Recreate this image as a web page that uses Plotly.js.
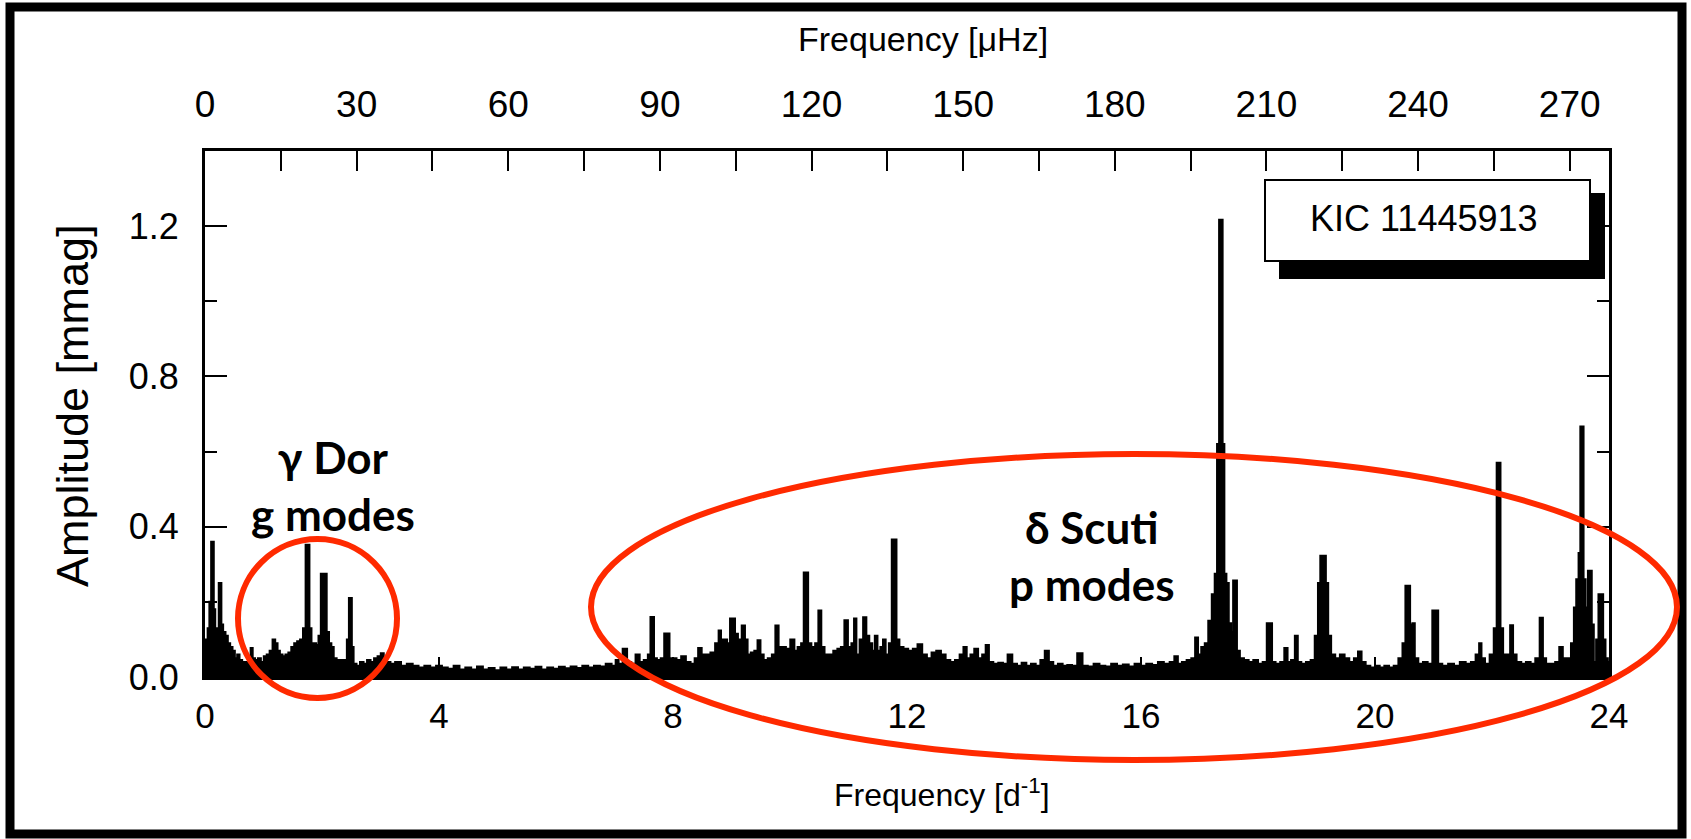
<!DOCTYPE html>
<html>
<head>
<meta charset="utf-8">
<script src="https://cdn.plot.ly/plotly-3.0.1.min.js"></script>
<style>
html,body{margin:0;padding:0;background:#fff;}
#chart{width:1691px;height:839px;}
</style>
</head>
<body>
<div id="chart"></div>
<script>
// ---- Data (frequency in d^-1, amplitude in mmag) ----
const lowFreq = [0.00,0.03,0.06,0.09,0.12,0.14,0.16,0.19,0.22,0.25,0.27,0.29,0.33,0.37,0.41,0.45,0.49,0.53,0.57,0.61,0.66,0.71,0.76,0.80,0.83,0.88,0.93,0.98,1.03,1.08,1.13,1.18,1.22,1.26,1.30,1.35,1.40,1.45,1.50,1.55,1.60,1.65,1.70,1.74,1.77,1.80,1.84,1.88,1.92,1.96,2.00,2.06,2.10,2.14,2.18,2.22,2.28,2.34,2.40,2.45,2.47,2.50,2.52,2.56,2.62,2.68,2.74,2.80,2.86,2.92,2.98,3.03,3.08,3.14,3.20];
const lowAmp  = [0.06,0.10,0.13,0.20,0.36,0.36,0.18,0.13,0.13,0.25,0.25,0.14,0.12,0.11,0.09,0.08,0.07,0.05,0.06,0.045,0.04,0.04,0.05,0.077,0.05,0.045,0.05,0.04,0.055,0.06,0.07,0.10,0.09,0.07,0.06,0.055,0.06,0.065,0.08,0.09,0.095,0.10,0.13,0.352,0.352,0.13,0.09,0.09,0.085,0.11,0.275,0.275,0.12,0.09,0.08,0.05,0.045,0.045,0.045,0.10,0.21,0.21,0.08,0.035,0.03,0.04,0.035,0.045,0.04,0.05,0.055,0.063,0.045,0.04,0.035];

const gapFreq = [3.30,3.40,3.50,3.60,3.70,3.80,3.90,4.00,4.10,4.20,4.30,4.40,4.50,4.60,4.70,4.80,4.90,5.00,5.10,5.20,5.30,5.40,5.50,5.60,5.70,5.80,5.90,6.00,6.10,6.20,6.30,6.40,6.50,6.60,6.70,6.80,6.90,7.00];
const gapAmp  = [0.04,0.03,0.035,0.03,0.025,0.03,0.025,0.03,0.025,0.022,0.03,0.02,0.025,0.02,0.028,0.02,0.024,0.018,0.025,0.02,0.026,0.02,0.025,0.022,0.027,0.02,0.025,0.022,0.027,0.023,0.028,0.024,0.03,0.025,0.03,0.028,0.035,0.03];

const pFreq = [7.04,7.10,7.18,7.25,7.32,7.40,7.46,7.54,7.60,7.63,7.66,7.69,7.76,7.82,7.88,7.92,7.96,8.02,8.10,8.18,8.26,8.34,8.40,8.46,8.52,8.60,8.68,8.76,8.80,8.84,8.90,8.95,9.00,9.04,9.08,9.14,9.21,9.25,9.30,9.36,9.42,9.47,9.52,9.58,9.66,9.72,9.78,9.83,9.90,9.96,10.05,10.10,10.16,10.22,10.25,10.29,10.33,10.40,10.46,10.51,10.56,10.62,10.70,10.78,10.84,10.90,10.96,11.02,11.08,11.11,11.16,11.22,11.28,11.33,11.38,11.43,11.47,11.52,11.57,11.61,11.66,11.72,11.76,11.80,11.84,11.90,11.98,12.06,12.14,12.22,12.30,12.38,12.46,12.54,12.62,12.70,12.78,12.86,12.94,12.99,13.05,13.12,13.18,13.25,13.32,13.37,13.43,13.52,13.60,13.68,13.76,13.84,13.92,14.00,14.08,14.16,14.24,14.32,14.39,14.46,14.54,14.62,14.70,14.78,14.86,14.96,15.04,15.14,15.24,15.34,15.44,15.54,15.64,15.74,15.84,15.94,16.04,16.14,16.24,16.34,16.44];
const pAmp  = [0.045,0.035,0.075,0.04,0.035,0.06,0.04,0.045,0.06,0.16,0.16,0.05,0.045,0.05,0.116,0.116,0.05,0.05,0.045,0.055,0.04,0.035,0.05,0.077,0.06,0.06,0.065,0.09,0.124,0.10,0.10,0.09,0.156,0.156,0.115,0.10,0.137,0.10,0.06,0.065,0.07,0.098,0.06,0.045,0.05,0.06,0.137,0.08,0.08,0.075,0.10,0.07,0.08,0.09,0.278,0.278,0.09,0.08,0.09,0.177,0.08,0.06,0.06,0.07,0.075,0.08,0.151,0.08,0.09,0.156,0.06,0.10,0.159,0.11,0.09,0.07,0.11,0.07,0.08,0.10,0.06,0.09,0.366,0.366,0.10,0.08,0.075,0.07,0.075,0.087,0.06,0.05,0.065,0.07,0.06,0.045,0.04,0.045,0.06,0.08,0.05,0.06,0.075,0.05,0.06,0.085,0.04,0.035,0.038,0.035,0.06,0.035,0.03,0.038,0.03,0.035,0.03,0.045,0.07,0.04,0.03,0.035,0.03,0.032,0.03,0.063,0.03,0.028,0.035,0.03,0.028,0.035,0.03,0.033,0.028,0.035,0.03,0.035,0.032,0.04,0.035];

const highFreq = [16.54,16.60,16.66,16.74,16.82,16.90,16.95,17.00,17.06,17.12,17.18,17.24,17.28,17.32,17.35,17.38,17.41,17.44,17.48,17.52,17.56,17.59,17.62,17.66,17.72,17.80,17.88,17.96,18.04,18.12,18.18,18.22,18.26,18.34,18.42,18.48,18.53,18.60,18.66,18.70,18.78,18.86,18.94,19.00,19.05,19.08,19.14,19.18,19.22,19.28,19.36,19.44,19.52,19.60,19.68,19.74,19.80,19.88,19.96,20.04,20.12,20.20,20.28,20.36,20.44,20.50,20.54,20.58,20.62,20.66,20.70,20.78,20.86,20.94,21.02,21.06,21.10,21.20,21.30,21.40,21.50,21.60,21.68,21.76,21.80,21.84,21.92,22.00,22.06,22.10,22.13,22.16,22.22,22.28,22.34,22.38,22.46,22.54,22.62,22.70,22.78,22.85,22.89,22.96,23.04,23.12,23.18,23.24,23.32,23.38,23.42,23.46,23.50,23.52,23.55,23.58,23.62,23.66,23.69,23.72,23.76,23.80,23.84,23.88,23.92,23.96,24.00];
const highAmp  = [0.04,0.055,0.035,0.04,0.045,0.05,0.105,0.06,0.08,0.09,0.15,0.22,0.275,0.62,1.217,1.217,0.62,0.275,0.25,0.143,0.12,0.257,0.257,0.07,0.05,0.045,0.04,0.045,0.035,0.04,0.143,0.143,0.04,0.035,0.04,0.077,0.04,0.045,0.11,0.04,0.035,0.04,0.045,0.11,0.25,0.323,0.323,0.25,0.11,0.06,0.05,0.06,0.05,0.04,0.05,0.068,0.04,0.03,0.025,0.03,0.025,0.03,0.025,0.03,0.05,0.09,0.243,0.243,0.14,0.143,0.05,0.035,0.04,0.035,0.177,0.177,0.035,0.03,0.035,0.03,0.04,0.035,0.04,0.06,0.09,0.05,0.035,0.06,0.13,0.57,0.57,0.13,0.06,0.06,0.138,0.06,0.04,0.035,0.04,0.035,0.05,0.158,0.05,0.035,0.035,0.04,0.08,0.05,0.05,0.09,0.185,0.26,0.33,0.667,0.667,0.26,0.185,0.283,0.283,0.14,0.04,0.10,0.22,0.22,0.10,0.05,0.04];

const xTickVals = [0,4,8,12,16,20,24];
const yTickVals = [0.0,0.4,0.8,1.2];
const topTickVals = [0,30,60,90,120,150,180,210,240,270];
const starLabel = 'KIC 11445913';

// ---- Layout helpers (pixel -> paper) ----
const W = 1691, H = 839;
const PL = 205, PR = 1609, PT = 151, PB = 677;
const px = x => (x - PL) / (PR - PL);
const py = y => (PB - y) / (PB - PT);

const freq = lowFreq.concat(gapFreq, pFreq, highFreq);
const amp = lowAmp.concat(gapAmp, pAmp, highAmp);
const muHzMax = 24 * 1e6 / 86400;

const font = 'Liberation Sans, Arial, Helvetica, sans-serif';
const bold = 'Lato, Carlito, Calibri, sans-serif';
const red = '#ff2a00';

const traces = [
  {
    x: freq, y: amp, type: 'scatter', mode: 'lines',
    line: {color: '#000', width: 2, shape: 'hvh'}, fill: 'tozeroy', fillcolor: '#000',
    hoverinfo: 'skip', showlegend: false
  },
  {
    // carrier for the top (μHz) axis, draws nothing
    x: topTickVals, y: topTickVals.map(() => null), xaxis: 'x2', yaxis: 'y',
    type: 'scatter', mode: 'lines', line: {width: 0}, hoverinfo: 'skip', showlegend: false
  }
];

const layout = {
  width: W, height: H,
  margin: {l: PL, r: W - PR, t: PT, b: H - PB, pad: 0},
  paper_bgcolor: '#fff', plot_bgcolor: '#fff',
  showlegend: false,
  font: {family: font, color: '#000', size: 36},
  xaxis: {
    range: [0, 24], tickvals: xTickVals, ticktext: xTickVals.map(String),
    ticks: 'inside', ticklen: 20, tickwidth: 2, tickcolor: '#000',
    showline: true, linewidth: 3, linecolor: '#000', mirror: true,
    showgrid: false, zeroline: false, ticklabelstandoff: 6,
    tickfont: {family: font, size: 35, color: '#000'}
  },
  xaxis2: {
    overlaying: 'x', side: 'top', anchor: 'y',
    range: [0, muHzMax], tickvals: topTickVals, ticktext: topTickVals.map(String),
    ticks: 'inside', ticklen: 20, tickwidth: 2, tickcolor: '#000',
    minor: {dtick: 15, tick0: 0, ticks: 'inside', ticklen: 20, tickwidth: 2, tickcolor: '#000'},
    showline: false, showgrid: false, zeroline: false, ticklabelstandoff: 26,
    tickfont: {family: font, size: 37, color: '#000'}
  },
  yaxis: {
    range: [0, 1.4], tickvals: yTickVals, ticktext: yTickVals.map(v => v.toFixed(1)),
    ticks: 'inside', ticklen: 22, tickwidth: 2, tickcolor: '#000',
    minor: {tickvals: [0.2, 0.6, 1.0], ticks: 'inside', ticklen: 12, tickwidth: 2, tickcolor: '#000'},
    showline: true, linewidth: 3, linecolor: '#000', mirror: 'ticks',
    showgrid: false, zeroline: false, ticklabelstandoff: 16,
    tickfont: {family: font, size: 36, color: '#000'}
  },
  shapes: [
    // outer frame
    {type: 'rect', xref: 'paper', yref: 'paper', x0: px(10), x1: px(1682), y0: py(7), y1: py(834),
     line: {color: '#000', width: 9}, fillcolor: 'rgba(0,0,0,0)', layer: 'above'},
    // label box shadow and box
    {type: 'rect', xref: 'paper', yref: 'paper', x0: px(1279), x1: px(1605), y0: py(193), y1: py(279),
     line: {width: 0}, fillcolor: '#000', layer: 'above'},
    {type: 'rect', xref: 'paper', yref: 'paper', x0: px(1265), x1: px(1590), y0: py(180), y1: py(261),
     line: {color: '#000', width: 2}, fillcolor: '#fff', layer: 'above'},
    // red ellipses
    {type: 'circle', xref: 'paper', yref: 'paper', x0: px(238), x1: px(397), y0: py(539), y1: py(698),
     line: {color: red, width: 6}, fillcolor: 'rgba(0,0,0,0)', layer: 'above'},
    {type: 'circle', xref: 'paper', yref: 'paper', x0: px(591), x1: px(1677), y0: py(454), y1: py(760),
     line: {color: red, width: 6}, fillcolor: 'rgba(0,0,0,0)', layer: 'above'}
  ],
  annotations: [
    {text: 'Frequency [μHz]', xref: 'paper', yref: 'paper', x: px(923), y: py(39),
     showarrow: false, xanchor: 'center', yanchor: 'middle', font: {family: font, size: 34, color: '#000'}},
    {text: 'Frequency [d<sup>-1</sup>]', xref: 'paper', yref: 'paper', x: px(942), y: py(793),
     showarrow: false, xanchor: 'center', yanchor: 'middle', font: {family: font, size: 32, color: '#000'}},
    {text: 'Amplitude [mmag]', xref: 'paper', yref: 'paper', x: px(72), y: py(406), textangle: -90,
     showarrow: false, xanchor: 'center', yanchor: 'middle', font: {family: font, size: 45, color: '#000'}},
    {text: starLabel, xref: 'paper', yref: 'paper', x: px(1424), y: py(218),
     showarrow: false, xanchor: 'center', yanchor: 'middle',
     font: {family: font, size: 36, color: '#000'}},
    {text: '<b>γ Dor</b><br><b>g modes</b>', xref: 'paper', yref: 'paper', x: px(333), y: py(485),
     showarrow: false, xanchor: 'center', yanchor: 'middle', align: 'center',
     font: {family: bold, size: 44, color: '#000'}},
    {text: '<b>δ Scuti</b><br><b>p modes</b>', xref: 'paper', yref: 'paper', x: px(1092), y: py(555),
     showarrow: false, xanchor: 'center', yanchor: 'middle', align: 'center',
     font: {family: bold, size: 44, color: '#000'}}
  ]
};

Plotly.newPlot('chart', traces, layout, {displayModeBar: false, staticPlot: true});
</script>
</body>
</html>
